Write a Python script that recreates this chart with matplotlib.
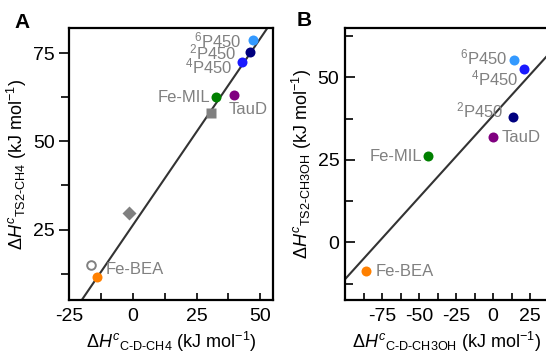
import matplotlib
matplotlib.use("Agg")
import matplotlib.pyplot as plt
from matplotlib.ticker import MultipleLocator, FixedLocator

plt.rcParams['font.family'] = ['Liberation Sans', 'DejaVu Sans']
plt.rcParams['mathtext.fontset'] = 'custom'
plt.rcParams['mathtext.rm'] = 'Liberation Sans'
plt.rcParams['mathtext.it'] = 'Liberation Sans:italic'
plt.rcParams['mathtext.bf'] = 'Liberation Sans:bold'
plt.rcParams['axes.unicode_minus'] = False

# panel A: C-D vs TS2 for methane
names_a = ["$^{6}$P450", "$^{2}$P450", "$^{4}$P450", "Fe-MIL", "TauD", "Fe-BEA"]
x_a = [47.3, 46.1, 43.0, 32.6, 39.9, -14.0]
y_a = [78.7, 75.3, 72.4, 62.5, 63.3, 11.6]
# grey reference points
sq_x, sq_y = [30.6], [58.0]
dia_x, dia_y = [-1.6], [29.8]
open_x, open_y = [-16.3], [14.8]
fit_a = (1.06, 26.2)

# panel B: methanol
names_b = ["$^{6}$P450", "$^{4}$P450", "$^{2}$P450", "TauD", "Fe-MIL", "Fe-BEA"]
x_b = [14.2, 20.9, 13.5, 0.0, -43.9, -85.8]
y_b = [55.2, 52.4, 37.9, 31.8, 26.1, -8.8]
fit_b = (0.496, 38.4)
xticks_b = [-75, -50, -25, 0, 25]

cols = {"$^{6}$P450": "#3399ff", "$^{4}$P450": "#1a1aff", "$^{2}$P450": "#00007f",
        "Fe-MIL": "#008000", "TauD": "#800080", "Fe-BEA": "#ff8000"}

# label offsets in pixels (dx, dy, ha)
offs_a = {"$^{6}$P450": (-12, 0, "right"), "$^{2}$P450": (-14, 0, "right"),
          "$^{4}$P450": (-10, -4, "right"), "Fe-MIL": (-6, 0, "right"),
          "TauD": (-6, -15, "left"), "Fe-BEA": (9, 7, "left")}
offs_b = {"$^{6}$P450": (-7, 3, "right"), "$^{4}$P450": (-6, -9, "right"),
          "$^{2}$P450": (-10, 7, "right"), "TauD": (9, 0, "left"),
          "Fe-MIL": (-6, 0, "right"), "Fe-BEA": (10, 0, "left")}

fig = plt.figure(figsize=(5.46, 3.58), dpi=100)
axA = fig.add_axes([0.1264, 0.162, 0.3736, 0.760])
axB = fig.add_axes([0.6319, 0.162, 0.3727, 0.760])

grey = "#808080"
fs = 14
lfs = 13


def style(ax, ydir):
    for s in ax.spines.values():
        s.set_linewidth(1.6)
    ax.xaxis.set_major_locator(MultipleLocator(25))
    ax.xaxis.set_minor_locator(MultipleLocator(12.5))
    ax.yaxis.set_major_locator(MultipleLocator(25))
    ax.yaxis.set_minor_locator(MultipleLocator(12.5))
    ax.tick_params(axis='x', which='both', direction='in', width=1.2, labelsize=fs, pad=6, length=5)
    ax.tick_params(axis='y', which='both', direction=ydir, width=1.2, labelsize=fs, pad=3)
    ax.tick_params(axis='y', which='major', length=7)
    ax.tick_params(axis='y', which='minor', length=6)


def draw(ax, names, xs, ys, offs, fit, xlim):
    xl = list(xlim)
    ax.plot(xl, [fit[0] * v + fit[1] for v in xl], color="#333333", lw=1.5, zorder=1)
    for n, x, y in zip(names, xs, ys):
        ax.plot(x, y, 'o', ms=7.2, color=cols[n], mec='none', zorder=3)
        dx, dy, ha = offs[n]
        ax.annotate(n, (x, y), xytext=(dx * 0.72, dy * 0.72), textcoords='offset points',
                    ha=ha, va='center', color=grey, fontsize=12)


draw(axA, names_a, x_a, y_a, offs_a, fit_a, (-30, 60))
axA.plot(sq_x, sq_y, 's', ms=7, color=grey, mec='none', zorder=2)
axA.plot(dia_x, dia_y, 'D', ms=7, color=grey, mec='none', zorder=2)
axA.plot(open_x, open_y, 'o', ms=6.2, mfc='none', mec=grey, mew=1.4, zorder=2)
axA.set_xlim(-25, 55)
axA.set_ylim(5, 82.2)
style(axA, 'out')
axA.set_xlabel(r"$\Delta\mathit{H}^{c}{}_{\text{C-D-CH4}}$ (kJ mol$^{-1}$)", fontsize=lfs, labelpad=3)
axA.set_ylabel(r"$\Delta\mathit{H}^{c}{}_{\text{TS2-CH4}}$ (kJ mol$^{-1}$)", fontsize=lfs, labelpad=3)

draw(axB, names_b, x_b, y_b, offs_b, fit_b, (-110, 50))
axB.set_xlim(-100, 37.5)
axB.set_ylim(-17.5, 65)
style(axB, 'in')
axB.xaxis.set_major_locator(FixedLocator(xticks_b))
axB.tick_params(axis='y', which='both', pad=4)
axB.set_xlabel(r"$\Delta\mathit{H}^{c}{}_{\text{C-D-CH3OH}}$ (kJ mol$^{-1}$)", fontsize=lfs, labelpad=3)
axB.set_ylabel(r"$\Delta\mathit{H}^{c}{}_{\text{TS2-CH3OH}}$ (kJ mol$^{-1}$)", fontsize=lfs, labelpad=3)

fig.text(22 / 546, 1 - 22 / 358, "A", fontsize=15, fontweight='bold', ha='center', va='center')
fig.text(304 / 546, 1 - 21 / 358, "B", fontsize=15, fontweight='bold', ha='center', va='center')

fig.savefig("out.png", dpi=100)
